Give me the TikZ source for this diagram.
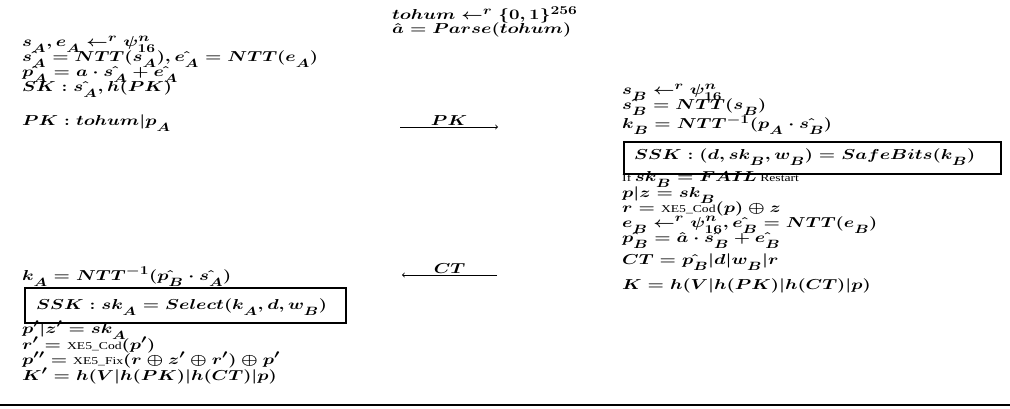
\documentclass[tikz,border=0pt]{standalone}
\usepackage{fontspec}
\newfontfamily\tms{Liberation Serif}
\DeclareMathSizes{15}{15}{12.5}{10}
\everymath{\fontdimen16\textfont2=6pt\fontdimen17\textfont2=6pt}
\newcommand{\tnm}[1]{\mbox{\tms\fontsize{10.5}{10.5}\selectfont #1}}
\newcommand{\W}[1]{\scalebox{1.3}[1]{$#1$}}
\begin{document}
\begin{tikzpicture}[x=1pt,y=-1pt,
  txt/.style={anchor=base west, inner sep=0pt, font=\fontsize{15}{16}\selectfont\boldmath},
  boxst/.style={draw, line width=1.6pt, inner sep=0pt},
  msg/.style={->, line width=0.9pt},
  lab/.style={above, inner sep=1.5pt, font=\fontsize{15}{16}\selectfont\boldmath}]
\useasboundingbox (0,0) rectangle (1010,409);
% middle top
\node[txt] (t1) at (392,20) {\W{tohum \leftarrow^{r} \{0,1\}^{256}}};
\node[txt] (t2) at (392,34) {\W{\hat{a} = Parse(tohum)}};
% left top
\node[txt] (a1) at (22,47) {\W{s_A, e_A \leftarrow^{r} \psi^{n}_{16}}};
\node[txt] (a2) at (22,62) {\W{\hat{s_A} = NTT(s_A), \hat{e_A} = NTT(e_A)}};
\node[txt] (a3) at (22,77) {\W{\hat{p_A} = a\cdot \hat{s_A} + \hat{e_A}}};
\node[txt] (a4) at (22,92) {\W{SK : \hat{s_A}, h(PK)}};
\node[txt] (a5) at (22,126) {\W{PK : tohum|p_A}};
% PK arrow
\coordinate (pk1) at (400,127);
\coordinate (pk2) at (498,127);
\draw[msg] (pk1) -- (pk2) node[lab, midway] (pkl) {\W{PK}};
% right column
\node[txt] (b1) at (622,95) {\W{s_B \leftarrow^{r} \psi^{n}_{16}}};
\node[txt] (b2) at (622,110) {\W{\hat{s_B} = NTT(s_B)}};
\node[txt] (b3) at (622,129) {\W{k_B = NTT^{-1}(p_A\cdot \hat{s_B})}};
\node[boxst, minimum width=377pt, minimum height=32pt, anchor=north west] (box1) at (623,141) {};
\node[txt] (b4) at (634,160) {\W{SSK : (d, sk_B, w_B) = SafeBits(k_B)}};
\node[txt] (b5) at (622,182) {\W{\tnm{If}\,sk_B = FAIL\,\tnm{Restart}}};
\node[txt] (b6) at (622,197) {\W{p|z = sk_B}};
\node[txt] (b7) at (622,212) {\W{r = \tnm{XE5\_Cod}(p) \oplus z}};
\node[txt] (b8) at (622,227) {\W{e_B \leftarrow^{r} \psi^{n}_{16}, \hat{e_B} = NTT(e_B)}};
\node[txt] (b9) at (622,242) {\W{\hat{p_B} = \hat{a}\cdot \hat{s_B} + \hat{e_B}}};
\node[txt] (b10) at (622,264) {\W{CT = \hat{p_B}|d|w_B|r}};
\node[txt] (b11) at (622,289) {\W{K = h(V|h(PK)|h(CT)|p)}};
% CT arrow
\coordinate (ct1) at (497,275);
\coordinate (ct2) at (402,275);
\draw[msg] (ct1) -- (ct2) node[lab, midway] (ctl) {\W{CT}};
% left bottom
\node[txt] (c1) at (22,280) {\W{k_A = NTT^{-1}(\hat{p_B}\cdot \hat{s_A})}};
\node[boxst, minimum width=321pt, minimum height=35pt, anchor=north west] (box2) at (24,287) {};
\node[txt] (c2) at (36,309) {\W{SSK : sk_A = Select(k_A, d, w_B)}};
\node[txt] (c3) at (22,333) {\W{p'|z' = sk_A}};
\node[txt] (c4) at (22,349) {\W{r' = \tnm{XE5\_Cod}(p')}};
\node[txt] (c5) at (22,364) {\W{p'' = \tnm{XE5\_Fix}(r\oplus z'\oplus r')\oplus p'}};
\node[txt] (c6) at (22,380) {\W{K' = h(V|h(PK)|h(CT)|p)}};
% bottom rule
\coordinate (r1) at (0,405);
\coordinate (r2) at (1010,405);
\draw[line width=2.4pt] (r1) -- (r2);
\end{tikzpicture}
\end{document}
